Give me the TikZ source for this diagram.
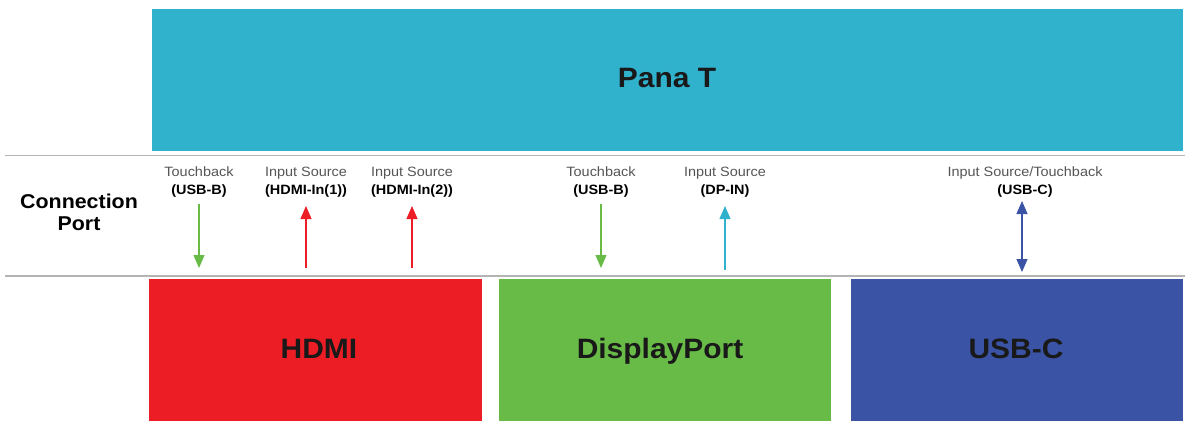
\documentclass[tikz,border=0pt]{standalone}
\usepackage{fontspec}
\setmainfont{Liberation Sans}
\newfontfamily\widesans[FakeStretch=1.07]{Liberation Sans}
\usetikzlibrary{arrows.meta}
\definecolor{panablue}{HTML}{30B1CC}
\definecolor{hdmired}{HTML}{EC1D25}
\definecolor{dpgreen}{HTML}{68BB47}
\definecolor{usbblue}{HTML}{3A53A4}
\definecolor{sepgray}{HTML}{B4B4B4}
\definecolor{lightgray}{HTML}{555555}
\begin{document}
\begin{tikzpicture}[x=1pt,y=-1pt,
  block/.style={draw=none,inner sep=0pt,anchor=base,font=\widesans\fontsize{28}{32}\selectfont\bfseries,text=black!90},
  portlbl/.style={align=center,font=\widesans\fontsize{13.5}{18}\selectfont,text=lightgray,inner sep=0pt},
  tip/.style={-{Triangle[width=11pt,length=13pt]},line width=1.1pt},
  sep/.style={draw=sepgray,line width=1.6pt}]
\useasboundingbox (0,0) rectangle (1187,426);
% top block
\fill[panablue] (152,9) rectangle (1183,151);
\node[block] (pana) at (667,87) {Pana T};
% separator lines
\draw[sep] (5,155.5) -- (1185,155.5);
\draw[sep] (5,276) -- (1185,276);
\node[align=center,font=\widesans\fontsize{20}{22}\selectfont\bfseries,inner sep=0pt] (cp) at (79,212) {Connection\\Port};
% bottom blocks
\fill[hdmired] (149,279) rectangle (482,421);
\fill[dpgreen] (499,279) rectangle (831,421);
\fill[usbblue] (851,279) rectangle (1183,421);
\node[block] (hdmi) at (319,358) {HDMI};
\node[block] (dp) at (660,358) {DisplayPort};
\node[block] (usbc) at (1016,358) {USB-C};
% port labels
\node[portlbl] (l1) at (199,182) {Touchback\\\textbf{\textcolor{black}{(USB-B)}}};
\node[portlbl] (l2) at (306,182) {Input Source\\\textbf{\textcolor{black}{(HDMI-In(1))}}};
\node[portlbl] (l3) at (412,182) {Input Source\\\textbf{\textcolor{black}{(HDMI-In(2))}}};
\node[portlbl] (l4) at (601,182) {Touchback\\\textbf{\textcolor{black}{(USB-B)}}};
\node[portlbl] (l5) at (725,182) {Input Source\\\textbf{\textcolor{black}{(DP-IN)}}};
\node[portlbl] (l6) at (1025,182) {Input Source/Touchback\\\textbf{\textcolor{black}{(USB-C)}}};
% arrow end points
\coordinate (a1t) at (199,204); \coordinate (a1b) at (199,268);
\coordinate (a2t) at (306,206); \coordinate (a2b) at (306,268);
\coordinate (a3t) at (412,206); \coordinate (a3b) at (412,268);
\coordinate (a4t) at (601,204); \coordinate (a4b) at (601,268);
\coordinate (a5t) at (725,206); \coordinate (a5b) at (725,270);
\coordinate (a6t) at (1022,201); \coordinate (a6b) at (1022,272);
\draw[tip,draw=dpgreen,fill=dpgreen] (a1t) -- (a1b);
\draw[tip,draw=hdmired,fill=hdmired] (a2b) -- (a2t);
\draw[tip,draw=hdmired,fill=hdmired] (a3b) -- (a3t);
\draw[tip,draw=dpgreen,fill=dpgreen] (a4t) -- (a4b);
\draw[tip,draw=panablue,fill=panablue] (a5b) -- (a5t);
\draw[{Triangle[width=11pt,length=13pt]}-{Triangle[width=11pt,length=13pt]},line width=1.1pt,draw=usbblue,fill=usbblue] (a6t) -- (a6b);
\end{tikzpicture}
\end{document}
